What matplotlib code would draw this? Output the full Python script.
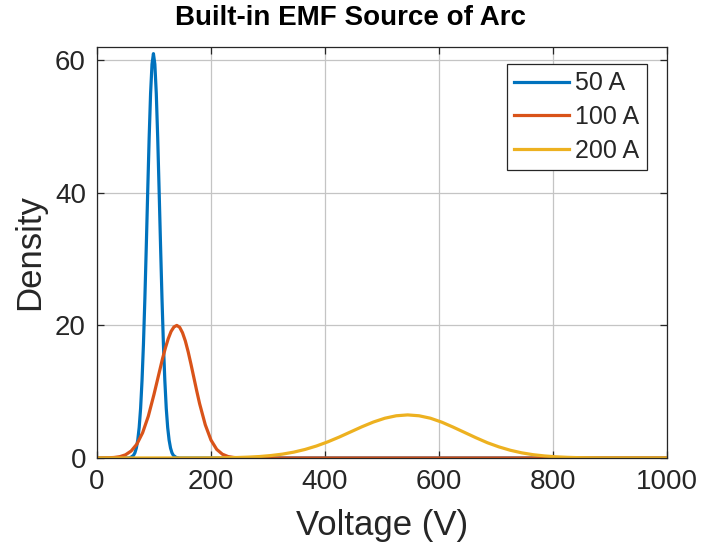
import matplotlib
matplotlib.use("Agg")
import matplotlib.pyplot as plt

# ---- data ----
v_50 = [0, 55, 59, 64, 66.5, 69, 71.5, 74, 76.5, 79, 81.5, 84, 86.5, 89, 91.5, 94, 96.5, 99,
        101.5, 104, 106.5, 109, 111.5, 114, 116.5, 119, 121.5, 124, 126.5, 129, 131.5, 134, 139, 145, 1000]
d_50 = [0, 0, 0.08, 0.39, 0.78, 1.5, 2.7, 4.6, 7.5, 11.7, 17.2, 24.1, 32.0, 40.3, 48.3, 55.0, 59.4, 61.0,
        59.4, 55.0, 48.3, 40.3, 32.0, 24.1, 17.2, 11.7, 7.5, 4.6, 2.7, 1.5, 0.78, 0.39, 0.08, 0, 0]

v_100 = [0, 20, 30, 40, 50, 60, 70, 80, 90, 100, 105, 110, 115, 120, 125, 130, 135, 140,
         145, 150, 155, 160, 165, 170, 175, 180, 190, 200, 210, 220, 230, 240, 250, 260, 1000]
d_100 = [0, 0.03, 0.08, 0.2, 0.48, 1.06, 2.1, 3.8, 6.3, 9.6, 11.4, 13.2, 15.0, 16.6, 18.0, 19.1, 19.77, 20.0,
         19.72, 18.9, 17.65, 16.0, 14.1, 12.1, 10.1, 8.2, 5.0, 2.7, 1.3, 0.57, 0.22, 0.08, 0.02, 0, 0]

v_200 = [0, 185, 205, 225, 245, 265, 285, 305, 325, 345, 365, 385, 405, 425, 445, 465, 485, 505, 525, 545,
         565, 585, 605, 625, 645, 665, 685, 705, 725, 745, 765, 785, 805, 825, 845, 865, 885, 1000]
d_200 = [0, 0.01, 0.02, 0.04, 0.07, 0.13, 0.22, 0.37, 0.58, 0.88, 1.29, 1.81, 2.44, 3.16, 3.94, 4.72, 5.43, 6.0, 6.37, 6.5,
         6.37, 6.0, 5.4, 4.65, 3.85, 3.05, 2.3, 1.68, 1.17, 0.78, 0.5, 0.31, 0.18, 0.1, 0.05, 0.025, 0.01, 0]

series_labels = ["50 A", "100 A", "200 A"]
x_ticks = [0, 200, 400, 600, 800, 1000]
y_ticks = [0, 20, 40, 60]

colors = ["#0072BD", "#D95319", "#EDB120"]
axc = "#262626"

plt.rcParams["font.family"] = ["Liberation Sans", "DejaVu Sans"]

fig = plt.figure(figsize=(7.01, 5.5), dpi=100)
ax = fig.add_axes([97 / 701, 92 / 550, 570 / 701, 411 / 550])

for xs, ys, c, lab in zip([v_50, v_100, v_200], [d_50, d_100, d_200], colors, series_labels):
    ax.plot(xs, ys, color=c, lw=2.3, label=lab, solid_joinstyle="round")

ax.set_xlim(0, 1000)
ax.set_ylim(0, 62)
ax.set_xticks(x_ticks)
ax.set_yticks(y_ticks)
ax.grid(True, color="#c4c4c4", lw=0.9)
ax.set_axisbelow(True)

for s in ax.spines.values():
    s.set_color(axc)
    s.set_linewidth(0.9)
ax.tick_params(direction="in", length=5, width=0.9, colors=axc, labelsize=20,
               top=True, right=True, pad=8)
for t in ax.get_xticklabels() + ax.get_yticklabels():
    t.set_color(axc)

ax.set_xlabel("Voltage (V)", fontsize=25, color=axc, labelpad=10)
ax.set_ylabel("Density", fontsize=25, color=axc, labelpad=6)
fig.text(0.5, 1 - 18 / 550, "Built-in EMF Source of Arc", fontsize=20, fontweight="bold",
         color="black", ha="center", va="center")

leg = ax.legend(loc="upper right", fontsize=18, frameon=True, fancybox=False,
                edgecolor=axc, framealpha=1, handlelength=2.2, handletextpad=0.25,
                labelspacing=0.38, borderpad=0.3, borderaxespad=0.0,
                bbox_to_anchor=(647 / 701, 1 - 64 / 550), bbox_transform=fig.transFigure)
leg.get_frame().set_linewidth(0.9)
for t in leg.get_texts():
    t.set_color(axc)

fig.savefig("out.png", dpi=100)
